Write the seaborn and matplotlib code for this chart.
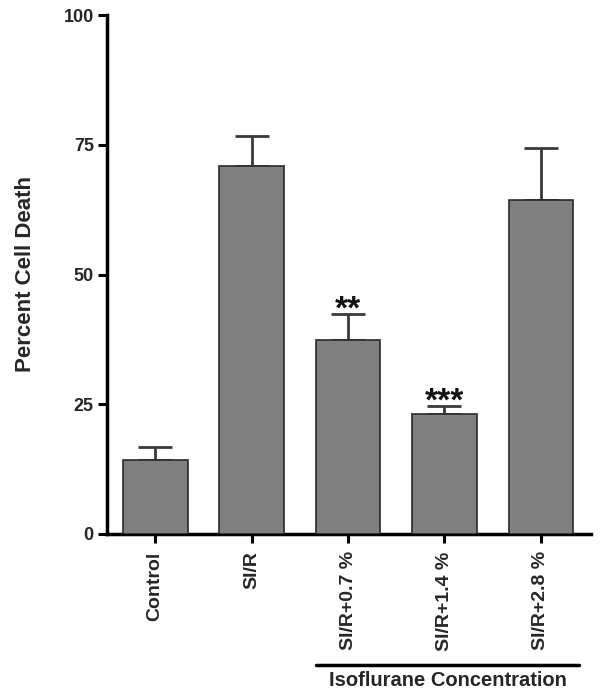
import matplotlib
matplotlib.use("Agg")
import matplotlib.pyplot as plt
import seaborn as sns
import pandas as pd
import numpy as np
from matplotlib.lines import Line2D
from matplotlib.transforms import blended_transform_factory

categories = ["Control", "SI/R", "SI/R+0.7 %", "SI/R+1.4 %", "SI/R+2.8 %"]
means = [14.2, 71.0, 37.3, 23.2, 64.4]
errors = [2.6, 5.7, 5.1, 1.5, 9.9]
stars = ["", "", "**", "***", ""]
yticks = [0, 25, 50, 75, 100]
group_label = "Isoflurane Concentration"
ylabel = "Percent Cell Death"

sns.set_style("ticks")
plt.rcParams['font.family'] = ['Liberation Sans', 'DejaVu Sans']
plt.rcParams['font.weight'] = 'bold'

df = pd.DataFrame({"group": categories, "value": means})

fig = plt.figure(figsize=(6.02, 6.99), dpi=100)
ax = fig.add_axes([107/602, 165/699, (591-107)/602, (534-15)/699])

sns.barplot(data=df, x="group", y="value", order=categories, color="#808080",
            saturation=1, width=0.67, errorbar=None, edgecolor="#2a2a2a",
            linewidth=1.2, ax=ax, zorder=3)

xpos = np.arange(len(categories))
ax.errorbar(xpos, means, yerr=[np.zeros(len(errors)), errors], fmt="none",
            ecolor="#3a3a3a", elinewidth=2, capsize=12.5, capthick=2, zorder=2)

for i, s in enumerate(stars):
    if s:
        ax.text(xpos[i], means[i] + errors[i] - 0.9, s, ha="center", va="baseline",
                fontsize=24, fontweight="bold", color="#111111")

ax.set_ylim(0, 100)
ax.set_xlim(-0.5, 4.52)
ax.set_yticks(yticks)
ax.set_yticklabels([str(t) for t in yticks], fontsize=13, fontweight="bold")
ax.set_xticks(xpos)
ax.set_xticklabels(categories, rotation=90, fontsize=14, fontweight="bold")
ax.set_xlabel("")
ax.set_ylabel(ylabel, fontsize=16, fontweight="bold")
ax.yaxis.set_label_coords(-0.147, 0.5)

for side in ["top", "right"]:
    ax.spines[side].set_visible(False)
for side in ["left", "bottom"]:
    ax.spines[side].set_linewidth(2.5)
    ax.spines[side].set_color("black")
ax.tick_params(axis="both", direction="out", length=6.5, width=2.2, color="black", pad=3)
ax.tick_params(axis="x", pad=6)

trans = blended_transform_factory(ax.transData, fig.transFigure)
ax.add_artist(Line2D([1.67, 4.4], [(699-665)/699]*2, transform=trans, color="black",
                     linewidth=2.5, clip_on=False))
fig.text(448/602, (699-680)/699, group_label, ha="center", va="center",
         fontsize=14.5, fontweight="bold")

fig.savefig("out.png", dpi=100)
